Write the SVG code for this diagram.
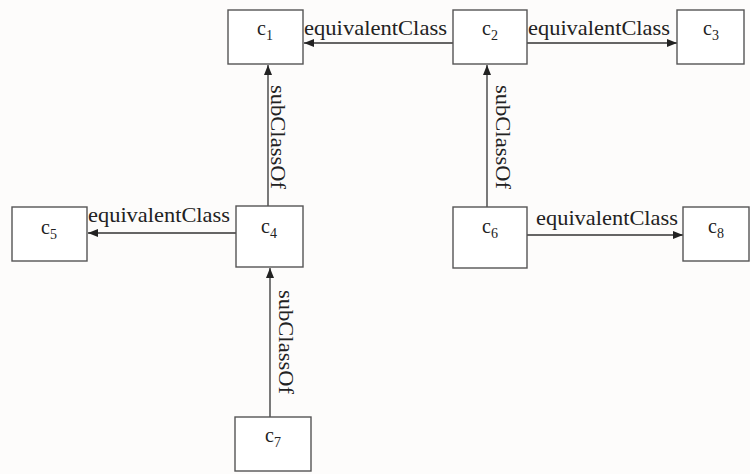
<svg xmlns="http://www.w3.org/2000/svg" width="750" height="474" viewBox="0 0 750 474">
  <style>
    .box { fill: #ffffff; stroke: #555555; stroke-width: 1.4; }
    .edge { fill: none; stroke: #333333; stroke-width: 1.3; marker-end: url(#arrow); }
    .name { font-family: "Liberation Serif", "Times New Roman", serif; font-size: 20px; fill: #222222; text-anchor: middle; }
    .sub { font-size: 14px; }
    .lbl { font-family: "Liberation Serif", "Times New Roman", serif; font-size: 21px; fill: #222222; }
  </style>
  <defs>
    <marker id="arrow" markerUnits="userSpaceOnUse" markerWidth="10" markerHeight="8" refX="10" refY="4" orient="auto">
      <path d="M0,0 L10,4 L0,8 z" fill="#222222"/>
    </marker>
  </defs>
  <rect x="0" y="0" width="750" height="474" fill="#fdfcfb"/>

  <g id="connectors">
    <!-- c2 equivalentClass c1 -->
    <line class="edge" x1="453" y1="43" x2="304" y2="43"/>
    <text class="lbl" x="304" y="35" textLength="143" lengthAdjust="spacingAndGlyphs">equivalentClass</text>
    <!-- c2 equivalentClass c3 -->
    <line class="edge" x1="527" y1="43" x2="677" y2="43"/>
    <text class="lbl" x="528" y="35" textLength="142" lengthAdjust="spacingAndGlyphs">equivalentClass</text>
    <!-- c4 equivalentClass c5 -->
    <line class="edge" x1="236" y1="233" x2="88" y2="233"/>
    <text class="lbl" x="88" y="222" textLength="142" lengthAdjust="spacingAndGlyphs">equivalentClass</text>
    <!-- c6 equivalentClass c8 -->
    <line class="edge" x1="527" y1="235" x2="683" y2="235"/>
    <text class="lbl" x="536" y="225" textLength="142" lengthAdjust="spacingAndGlyphs">equivalentClass</text>
    <!-- c4 subClassOf c1 -->
    <line class="edge" x1="268" y1="206" x2="268" y2="65"/>
    <text class="lbl" transform="translate(271,85) rotate(90)" textLength="104" lengthAdjust="spacingAndGlyphs">subClassOf</text>
    <!-- c6 subClassOf c2 -->
    <line class="edge" x1="487" y1="207" x2="487" y2="65"/>
    <text class="lbl" transform="translate(496,85) rotate(90)" textLength="104" lengthAdjust="spacingAndGlyphs">subClassOf</text>
    <!-- c7 subClassOf c4 -->
    <line class="edge" x1="270" y1="417" x2="270" y2="268"/>
    <text class="lbl" transform="translate(279,290) rotate(90)" textLength="104" lengthAdjust="spacingAndGlyphs">subClassOf</text>
  </g>

  <g id="c1">
    <rect class="box" x="228" y="10" width="75" height="54"/>
    <text class="name" x="265" y="35">c<tspan class="sub" dy="5">1</tspan></text>
  </g>
  <g id="c2">
    <rect class="box" x="453" y="10" width="74" height="54"/>
    <text class="name" x="490" y="35">c<tspan class="sub" dy="5">2</tspan></text>
  </g>
  <g id="c3">
    <rect class="box" x="677" y="10" width="67" height="54"/>
    <text class="name" x="711" y="35">c<tspan class="sub" dy="5">3</tspan></text>
  </g>
  <g id="c4">
    <rect class="box" x="236" y="206" width="67" height="61"/>
    <text class="name" x="269" y="233">c<tspan class="sub" dy="5">4</tspan></text>
  </g>
  <g id="c5">
    <rect class="box" x="12" y="207" width="75" height="54"/>
    <text class="name" x="49" y="234">c<tspan class="sub" dy="5">5</tspan></text>
  </g>
  <g id="c6">
    <rect class="box" x="453" y="207" width="74" height="61"/>
    <text class="name" x="490" y="233">c<tspan class="sub" dy="5">6</tspan></text>
  </g>
  <g id="c7">
    <rect class="box" x="235" y="417" width="76" height="54"/>
    <text class="name" x="273" y="442">c<tspan class="sub" dy="5">7</tspan></text>
  </g>
  <g id="c8">
    <rect class="box" x="683" y="207" width="66" height="54"/>
    <text class="name" x="716" y="233">c<tspan class="sub" dy="5">8</tspan></text>
  </g>
</svg>
